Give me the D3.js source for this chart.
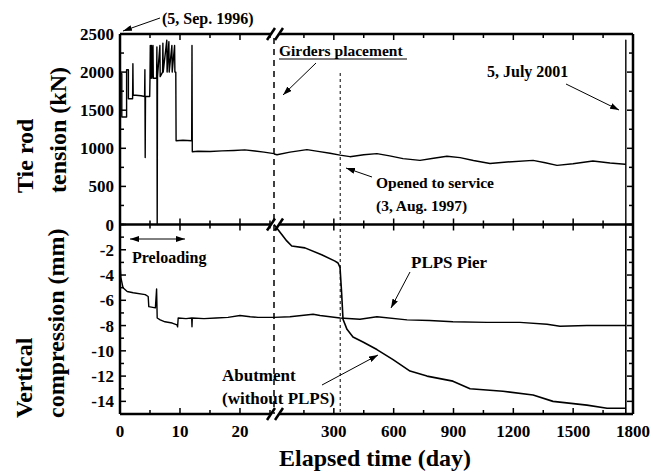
<!DOCTYPE html>
<html>
<head>
<meta charset="utf-8">
<script src="https://cdn.jsdelivr.net/npm/d3@7"></script>
<style>
	body { margin: 0; background: #fff; }
	text { font-family: "Liberation Serif", "Times New Roman", serif; font-weight: bold; fill: #000; }
</style>
</head>
<body>
<svg id="chart" width="653" height="475"></svg>
<script>
// ---- data (day, value) ----
// left segment: first ~25 days (preloading)
const tensionEarly = [
	[0, 1980], [0.3, 1980], [0.3, 1410], [1.1, 1410], [1.1, 2030], [1.4, 2030], [1.4, 1650],
	[2.1, 1650], [2.15, 2110], [2.2, 1700], [3.5, 1690], [4.1, 1680], [4.15, 2030], [4.2, 880],
	[4.25, 1680], [4.95, 1680], [5.0, 1920], [5.05, 2350], [5.1, 1920], [5.25, 2350], [5.3, 1920],
	[5.5, 2350], [5.55, 1920], [6.1, 1920], [6.15, 2330], [6.2, 0], [6.25, 1940], [6.65, 2350],
	[6.7, 1940], [7.1, 2000], [7.15, 2380], [7.2, 2000], [7.8, 2420], [7.85, 2000], [8.15, 2400],
	[8.2, 2000], [8.65, 2350], [8.7, 2000], [9.1, 2350], [9.15, 2000], [9.3, 2000], [9.35, 1100],
	[10.5, 1105], [11.95, 1100], [12.0, 2350], [12.05, 955], [13, 962], [15, 958], [17, 966],
	[19, 972], [20.8, 980], [22.5, 965], [24, 950], [25.67, 930]
];
const pierEarly = [
	[0, -3.0], [0.15, -4.2], [0.5, -5.0], [1.2, -5.3], [2.2, -5.4], [4.2, -5.55], [4.7, -5.7],
	[4.8, -6.5], [5.9, -6.6], [6.1, -5.1], [6.2, -7.4], [6.7, -7.55], [7.5, -7.7], [8.7, -7.8],
	[9.5, -7.95], [9.6, -8.1], [9.7, -7.4], [11, -7.45], [11.95, -7.4], [12, -8.1], [12.05, -7.4],
	[14, -7.45], [16, -7.4], [18, -7.35], [20, -7.2], [21.7, -7.3], [23, -7.35], [25.67, -7.35]
];
// right segment: whole monitoring period
const tensionLate = [
	[0, 925], [15, 915], [80, 950], [165, 982], [221, 960], [281, 935], [331, 910], [381, 890],
	[450, 915], [516, 930], [580, 900], [647, 865], [732, 842], [800, 870], [867, 895], [933, 877],
	[1000, 840], [1083, 800], [1168, 820], [1299, 842], [1360, 810], [1419, 776], [1499, 798],
	[1599, 833], [1685, 807], [1760, 790], [1764, 790], [1764, 2420], [1764, 0]
];
const pierLate = [
	[0, -7.35], [80, -7.3], [196, -7.1], [231, -7.2], [281, -7.3], [331, -7.4], [431, -7.5],
	[516, -7.3], [667, -7.55], [780, -7.6], [897, -7.7], [1068, -7.75], [1233, -7.75],
	[1369, -7.9], [1434, -8.05], [1569, -8.0], [1764, -8.0]
];
const abutment = [
	[0, 0], [39, -0.8], [64, -1.3], [89, -1.7], [155, -1.85], [239, -2.4], [306, -2.9],
	[321, -3.05], [331, -3.4], [339, -5.4], [346, -7.5], [366, -8.3], [396, -8.9], [446, -9.3],
	[516, -9.9], [597, -10.7], [682, -11.6], [767, -12.0], [897, -12.4], [983, -13.0],
	[1148, -13.2], [1299, -13.5], [1399, -14.0], [1569, -14.3], [1670, -14.55], [1764, -14.55],
	[1764, -15], [1764, 0]
];

const tensionTicks = d3.range(0, 2501, 250);
const tensionLabels = [500, 1000, 1500, 2000, 2500];
const compTicks = d3.range(-15, 1, 1);
const compLabels = [0, -2, -4, -6, -8, -10, -12, -14];
const dayTicksEarly = [0, 5, 10, 15, 20, 25];
const dayLabelsEarly = [0, 10, 20];
const dayTicksLate = d3.range(150, 1801, 150);
const dayLabelsLate = [300, 600, 900, 1200, 1500, 1800];

const GIRDERS_DAY = 25.67; // break of the axis
const OPENED_DAY = 332;    // 3 Aug 1997
const END_DAY = 1764;      // 5 July 2001

// ---- layout ----
const L = 120, R = 633, BRK = 274;
const TOP = 34, MID = 224.5, BOT = 414;

const xa = d3.scaleLinear().domain([0, 25.67]).range([L, BRK]);
const xb = d3.scaleLinear().domain([0, 1800]).range([BRK, R]);
const yT = d3.scaleLinear().domain([0, 2500]).range([MID, TOP]);
const yC = d3.scaleLinear().domain([-15, 0]).range([BOT, MID]);

const svg = d3.select("#chart");

svg.append("defs").append("marker")
	.attr("id", "arr")
	.attr("markerUnits", "userSpaceOnUse")
	.attr("markerWidth", 9).attr("markerHeight", 6)
	.attr("refX", 9).attr("refY", 3)
	.attr("orient", "auto-start-reverse")
	.append("path").attr("d", "M0,0L9,3L0,6Z").attr("fill", "#000");

// event lines
svg.append("line")
	.attr("x1", xa(GIRDERS_DAY)).attr("x2", xa(GIRDERS_DAY))
	.attr("y1", 38).attr("y2", BOT)
	.attr("stroke", "#000").attr("stroke-width", 1.5).attr("stroke-dasharray", "6,5");
svg.append("line")
	.attr("x1", xb(OPENED_DAY)).attr("x2", xb(OPENED_DAY))
	.attr("y1", 73).attr("y2", BOT)
	.attr("stroke", "#000").attr("stroke-width", 1).attr("stroke-dasharray", "3,3");

// data lines
function drawSeries(data, xs, ys, w) {
	const line = d3.line().x((d) => xs(d[0])).y((d) => ys(d[1]));
	svg.append("path")
		.datum(data)
		.attr("d", line)
		.attr("fill", "none")
		.attr("stroke", "#000")
		.attr("stroke-width", w)
		.attr("stroke-linejoin", "round");
}
drawSeries(tensionEarly, xa, yT, 1.4);
drawSeries(tensionLate, xb, yT, 1.4);
drawSeries(pierEarly, xa, yC, 1.4);
drawSeries(pierLate, xb, yC, 1.4);
drawSeries(abutment, xb, yC, 1.6);

// ticks
function ticksX(xs, vals, major, y, dir) {
	vals.forEach((v) => {
		const len = major.includes(v) ? 6 : 4;
		svg.append("line")
			.attr("x1", xs(v)).attr("x2", xs(v))
			.attr("y1", y).attr("y2", y + dir * len)
			.attr("stroke", "#000").attr("stroke-width", 1.5);
	});
}
function ticksY(ys, vals, major, x, dir) {
	vals.forEach((v) => {
		const len = major.includes(v) ? 6 : 4;
		svg.append("line")
			.attr("x1", x).attr("x2", x + dir * len)
			.attr("y1", ys(v)).attr("y2", ys(v))
			.attr("stroke", "#000").attr("stroke-width", 1.5);
	});
}
[[TOP, 1], [MID, -1], [MID, 1], [BOT, -1]].forEach(([y, dir]) => {
	ticksX(xa, dayTicksEarly.filter((d) => d > 0 && d < 25.67), dayLabelsEarly, y, dir);
	ticksX(xb, dayTicksLate.filter((d) => d < 1800), dayLabelsLate, y, dir);
});
ticksY(yT, tensionTicks, tensionLabels, L, 1);
ticksY(yT, tensionTicks, tensionLabels, R, -1);
ticksY(yC, compTicks, compLabels, L, 1);
ticksY(yC, compTicks, compLabels, R, -1);

// frame with axis break
const frame = svg.append("g").attr("stroke", "#000").attr("stroke-width", 2.5).attr("fill", "none");
frame.append("line").attr("x1", L).attr("x2", L).attr("y1", TOP).attr("y2", BOT);
frame.append("line").attr("x1", R).attr("x2", R).attr("y1", TOP).attr("y2", BOT);
[TOP, MID, BOT].forEach((y) => {
	frame.append("line").attr("x1", L).attr("x2", BRK - 3).attr("y1", y).attr("y2", y);
	frame.append("line").attr("x1", BRK + 5).attr("x2", R).attr("y1", y).attr("y2", y);
	frame.append("line").attr("x1", BRK - 7).attr("x2", BRK + 1).attr("y1", y + 6).attr("y2", y - 6);
	frame.append("line").attr("x1", BRK + 1).attr("x2", BRK + 9).attr("y1", y + 6).attr("y2", y - 6);
});

// tick labels
const tickFont = "17px";
tensionLabels.forEach((v) => {
	svg.append("text").attr("x", L - 6).attr("y", yT(v) + 6)
		.attr("text-anchor", "end").style("font-size", tickFont).text(v);
});
compLabels.forEach((v) => {
	svg.append("text").attr("x", L - 6).attr("y", yC(v) + 6)
		.attr("text-anchor", "end").style("font-size", tickFont).text(v);
});
dayLabelsEarly.forEach((v) => {
	svg.append("text").attr("x", xa(v)).attr("y", 437)
		.attr("text-anchor", "middle").style("font-size", tickFont).text(v);
});
dayLabelsLate.forEach((v) => {
	svg.append("text").attr("x", xb(v)).attr("y", 437)
		.attr("text-anchor", "middle").style("font-size", tickFont).text(v);
});

// axis titles
svg.append("text").attr("x", 375).attr("y", 466).attr("text-anchor", "middle")
	.style("font-size", "24px").text("Elapsed time (day)");
[["Tie rod", 33, 193], ["tension (kN)", 66, 193], ["Vertical", 32, 418], ["compression (mm)", 64, 418]]
	.forEach(([t, x, y]) => {
		svg.append("text").attr("transform", `translate(${x},${y}) rotate(-90)`)
			.style("font-size", "24px").text(t);
	});

// annotations
const notes = [
	["(5, Sep. 1996)", 162, 24, 16],
	["Girders placement", 279, 56, 15.5],
	["5, July 2001", 487, 77, 16],
	["Opened to service", 376, 188, 15.5],
	["(3, Aug. 1997)", 376, 211, 15.5],
	["Preloading", 132, 263, 16],
	["PLPS Pier", 411, 268, 17],
	["Abutment", 222, 381, 17],
	["(without PLPS)", 222, 404, 17]
];
notes.forEach(([t, x, y, fs]) => {
	svg.append("text").attr("x", x).attr("y", y).style("font-size", fs + "px").text(t);
});
svg.append("line").attr("x1", 279).attr("x2", 407).attr("y1", 59).attr("y2", 59)
	.attr("stroke", "#000").attr("stroke-width", 1.2);

const arrows = [
	[160, 18, 123, 31, false],
	[316, 63, 283, 95, false],
	[566, 84, 619, 110, false],
	[372, 177, 346, 168, false],
	[130, 239, 185, 239, true],
	[410, 272, 391, 308, false],
	[322, 385, 378, 355, false]
];
arrows.forEach(([x1, y1, x2, y2, both]) => {
	const a = svg.append("line")
		.attr("x1", x1).attr("y1", y1).attr("x2", x2).attr("y2", y2)
		.attr("stroke", "#000").attr("stroke-width", 1)
		.attr("marker-end", "url(#arr)");
	if (both) a.attr("marker-start", "url(#arr)");
});
</script>
</body>
</html>
